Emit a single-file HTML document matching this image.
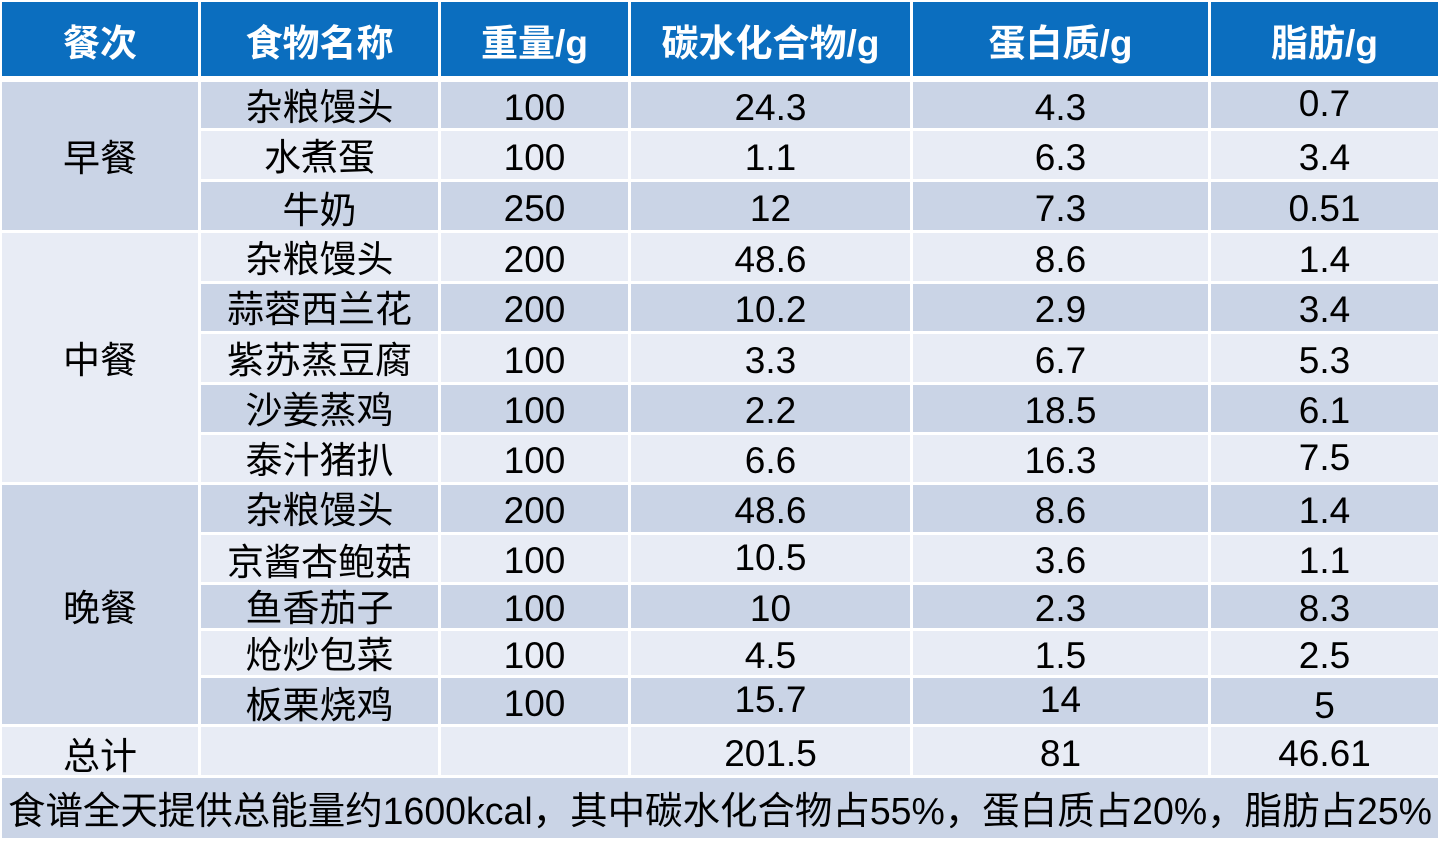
<!DOCTYPE html>
<html><head><meta charset="utf-8"><style>
html,body{margin:0;padding:0;background:#fff;}
body{width:1445px;height:854px;position:relative;overflow:hidden;font-family:"Liberation Sans","Noto Sans CJK SC",sans-serif;}
.c{position:absolute;display:flex;align-items:center;justify-content:center;font-size:37px;line-height:1;color:#000;white-space:nowrap;box-sizing:border-box;padding-top:4px;}
.h{background:#0B6EBF;color:#fff;font-weight:bold;font-size:37px;padding-top:8px;}
.d{background:#CAD4E6;}
.l{background:#E8ECF5;}
</style></head><body>
<!-- header -->
<div class="c h" style="left:2px;top:2px;width:196px;height:74px;">餐次</div>
<div class="c h" style="left:201px;top:2px;width:237px;height:74px;">食物名称</div>
<div class="c h" style="left:441px;top:2px;width:187px;height:74px;">重量/g</div>
<div class="c h" style="left:631px;top:2px;width:279px;height:74px;">碳水化合物/g</div>
<div class="c h" style="left:913px;top:2px;width:295px;height:74px;">蛋白质/g</div>
<div class="c h" style="left:1211px;top:2px;width:227px;height:74px;">脂肪/g</div>

<!-- group cells -->
<div class="c d" style="left:2px;top:82px;width:196px;height:148px;">早餐</div>
<div class="c l" style="left:2px;top:233px;width:196px;height:249px;padding-top:6px;">中餐</div>
<div class="c d" style="left:2px;top:485px;width:196px;height:239px;padding-top:7px;">晚餐</div>

<!-- rows -->
<div class="c d" style="left:201px;top:82px;width:237px;height:46px;">杂粮馒头</div>
<div class="c d" style="left:441px;top:82px;width:187px;height:46px;">100</div>
<div class="c d" style="left:631px;top:82px;width:279px;height:46px;">24.3</div>
<div class="c d" style="left:913px;top:82px;width:295px;height:46px;">4.3</div>
<div class="c d" style="left:1211px;top:82px;width:227px;height:46px;"><span style="position:relative;top:-4px">0.7</span></div>

<div class="c l" style="left:201px;top:131px;width:237px;height:48px;">水煮蛋</div>
<div class="c l" style="left:441px;top:131px;width:187px;height:48px;">100</div>
<div class="c l" style="left:631px;top:131px;width:279px;height:48px;">1.1</div>
<div class="c l" style="left:913px;top:131px;width:295px;height:48px;">6.3</div>
<div class="c l" style="left:1211px;top:131px;width:227px;height:48px;">3.4</div>

<div class="c d" style="left:201px;top:182px;width:237px;height:48px;"><span style="position:relative;top:2px">牛奶</span></div>
<div class="c d" style="left:441px;top:182px;width:187px;height:48px;">250</div>
<div class="c d" style="left:631px;top:182px;width:279px;height:48px;">12</div>
<div class="c d" style="left:913px;top:182px;width:295px;height:48px;">7.3</div>
<div class="c d" style="left:1211px;top:182px;width:227px;height:48px;">0.51</div>

<div class="c l" style="left:201px;top:233px;width:237px;height:48px;">杂粮馒头</div>
<div class="c l" style="left:441px;top:233px;width:187px;height:48px;">200</div>
<div class="c l" style="left:631px;top:233px;width:279px;height:48px;">48.6</div>
<div class="c l" style="left:913px;top:233px;width:295px;height:48px;">8.6</div>
<div class="c l" style="left:1211px;top:233px;width:227px;height:48px;">1.4</div>

<div class="c d" style="left:201px;top:284px;width:237px;height:47px;">蒜蓉西兰花</div>
<div class="c d" style="left:441px;top:284px;width:187px;height:47px;">200</div>
<div class="c d" style="left:631px;top:284px;width:279px;height:47px;">10.2</div>
<div class="c d" style="left:913px;top:284px;width:295px;height:47px;">2.9</div>
<div class="c d" style="left:1211px;top:284px;width:227px;height:47px;">3.4</div>

<div class="c l" style="left:201px;top:334px;width:237px;height:48px;">紫苏蒸豆腐</div>
<div class="c l" style="left:441px;top:334px;width:187px;height:48px;">100</div>
<div class="c l" style="left:631px;top:334px;width:279px;height:48px;">3.3</div>
<div class="c l" style="left:913px;top:334px;width:295px;height:48px;">6.7</div>
<div class="c l" style="left:1211px;top:334px;width:227px;height:48px;">5.3</div>

<div class="c d" style="left:201px;top:385px;width:237px;height:47px;">沙姜蒸鸡</div>
<div class="c d" style="left:441px;top:385px;width:187px;height:47px;">100</div>
<div class="c d" style="left:631px;top:385px;width:279px;height:47px;">2.2</div>
<div class="c d" style="left:913px;top:385px;width:295px;height:47px;">18.5</div>
<div class="c d" style="left:1211px;top:385px;width:227px;height:47px;">6.1</div>

<div class="c l" style="left:201px;top:435px;width:237px;height:47px;">泰汁猪扒</div>
<div class="c l" style="left:441px;top:435px;width:187px;height:47px;">100</div>
<div class="c l" style="left:631px;top:435px;width:279px;height:47px;">6.6</div>
<div class="c l" style="left:913px;top:435px;width:295px;height:47px;">16.3</div>
<div class="c l" style="left:1211px;top:435px;width:227px;height:47px;"><span style="position:relative;top:-3px">7.5</span></div>

<div class="c d" style="left:201px;top:485px;width:237px;height:47px;">杂粮馒头</div>
<div class="c d" style="left:441px;top:485px;width:187px;height:47px;">200</div>
<div class="c d" style="left:631px;top:485px;width:279px;height:47px;">48.6</div>
<div class="c d" style="left:913px;top:485px;width:295px;height:47px;">8.6</div>
<div class="c d" style="left:1211px;top:485px;width:227px;height:47px;">1.4</div>

<div class="c l" style="left:201px;top:535px;width:237px;height:47px;"><span style="position:relative;top:2px">京酱杏鲍菇</span></div>
<div class="c l" style="left:441px;top:535px;width:187px;height:47px;">100</div>
<div class="c l" style="left:631px;top:535px;width:279px;height:47px;"><span style="position:relative;top:-3px">10.5</span></div>
<div class="c l" style="left:913px;top:535px;width:295px;height:47px;">3.6</div>
<div class="c l" style="left:1211px;top:535px;width:227px;height:47px;">1.1</div>

<div class="c d" style="left:201px;top:585px;width:237px;height:43px;">鱼香茄子</div>
<div class="c d" style="left:441px;top:585px;width:187px;height:43px;">100</div>
<div class="c d" style="left:631px;top:585px;width:279px;height:43px;">10</div>
<div class="c d" style="left:913px;top:585px;width:295px;height:43px;">2.3</div>
<div class="c d" style="left:1211px;top:585px;width:227px;height:43px;">8.3</div>

<div class="c l" style="left:201px;top:631px;width:237px;height:44px;">炝炒包菜</div>
<div class="c l" style="left:441px;top:631px;width:187px;height:44px;">100</div>
<div class="c l" style="left:631px;top:631px;width:279px;height:44px;">4.5</div>
<div class="c l" style="left:913px;top:631px;width:295px;height:44px;">1.5</div>
<div class="c l" style="left:1211px;top:631px;width:227px;height:44px;">2.5</div>

<div class="c d" style="left:201px;top:678px;width:237px;height:46px;"><span style="position:relative;top:2px">板栗烧鸡</span></div>
<div class="c d" style="left:441px;top:678px;width:187px;height:46px;">100</div>
<div class="c d" style="left:631px;top:678px;width:279px;height:46px;"><span style="position:relative;top:-4px">15.7</span></div>
<div class="c d" style="left:913px;top:678px;width:295px;height:46px;"><span style="position:relative;top:-4px">14</span></div>
<div class="c d" style="left:1211px;top:678px;width:227px;height:46px;"><span style="position:relative;top:2px">5</span></div>

<!-- total -->
<div class="c l" style="left:2px;top:727px;width:196px;height:48px;"><span style="position:relative;top:3px">总计</span></div>
<div class="c l" style="left:201px;top:727px;width:237px;height:48px;"></div>
<div class="c l" style="left:441px;top:727px;width:187px;height:48px;"></div>
<div class="c l" style="left:631px;top:727px;width:279px;height:48px;">201.5</div>
<div class="c l" style="left:913px;top:727px;width:295px;height:48px;">81</div>
<div class="c l" style="left:1211px;top:727px;width:227px;height:48px;">46.61</div>

<!-- footer -->
<div style="position:absolute;left:2px;top:778px;width:1436px;height:60px;background:#CAD4E6;"></div>
<svg style="position:absolute;left:0;top:0" width="1445" height="854" xmlns="http://www.w3.org/2000/svg">
<text x="8" y="824" font-size="38" font-family="Liberation Sans, Noto Sans CJK SC, sans-serif" fill="#000" textLength="1424" lengthAdjust="spacingAndGlyphs">食谱全天提供总能量约1600kcal，其中碳水化合物占55%，蛋白质占20%，脂肪占25%</text>
</svg>
</body></html>
